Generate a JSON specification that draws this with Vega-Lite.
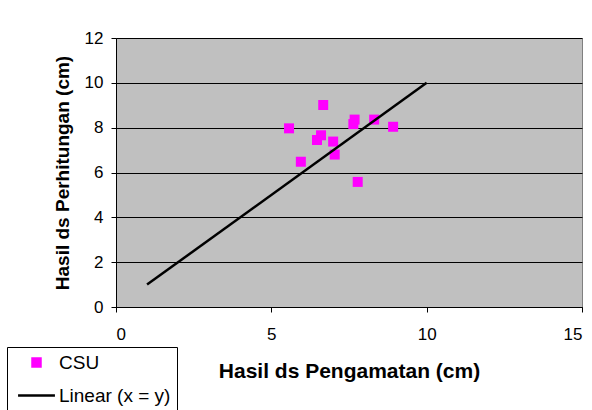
{
  "$schema": "https://vega.github.io/schema/vega-lite/v6.json",
  "width": 466,
  "height": 269,
  "autosize": "none",
  "padding": {"left": 116, "top": 38, "right": 10, "bottom": 103},
  "background": "white",
  "config": {
    "view": {"fill": "#C0C0C0", "stroke": "#808080", "strokeWidth": 1},
    "font": "Liberation Sans",
    "axis": {
      "domainColor": "black",
      "tickColor": "black",
      "tickSize": 5,
      "labelFont": "Liberation Sans",
      "labelFontSize": 17,
      "labelColor": "black",
      "titleFont": "Liberation Sans",
      "titleFontWeight": "bold",
      "titleColor": "black"
    },
    "legend": {
      "title": null,
      "orient": "none",
      "legendX": -109,
      "legendY": 309,
      "strokeColor": "black",
      "padding": 6,
      "labelFont": "Liberation Sans",
      "labelFontSize": 19,
      "labelColor": "black",
      "labelOffset": 13,
      "symbolOffset": 14,
      "rowPadding": 13
    }
  },
  "datasets": {
    "csu": [
      {"obs": 6.67, "calc": 9.01, "series": "CSU"},
      {"obs": 5.57, "calc": 7.97, "series": "CSU"},
      {"obs": 7.68, "calc": 8.36, "series": "CSU"},
      {"obs": 7.64, "calc": 8.16, "series": "CSU"},
      {"obs": 8.31, "calc": 8.36, "series": "CSU"},
      {"obs": 8.92, "calc": 8.04, "series": "CSU"},
      {"obs": 6.6, "calc": 7.66, "series": "CSU"},
      {"obs": 6.47, "calc": 7.45, "series": "CSU"},
      {"obs": 6.99, "calc": 7.38, "series": "CSU"},
      {"obs": 7.04, "calc": 6.8, "series": "CSU"},
      {"obs": 5.95, "calc": 6.48, "series": "CSU"},
      {"obs": 7.78, "calc": 5.58, "series": "CSU"}
    ],
    "linear": [
      {"obs": 1, "calc": 1, "series": "Linear (x = y)"},
      {"obs": 10, "calc": 10, "series": "Linear (x = y)"}
    ]
  },
  "encoding": {
    "x": {
      "field": "obs", "type": "quantitative",
      "scale": {"domain": [0, 15], "nice": false},
      "axis": {"values": [0, 5, 10, 15], "grid": false, "title": "Hasil ds Pengamatan (cm)", "titleFontSize": 21, "labelPadding": 14, "titlePadding": 18}
    },
    "y": {
      "field": "calc", "type": "quantitative",
      "scale": {"domain": [0, 12], "nice": false},
      "axis": {"values": [0, 2, 4, 6, 8, 10, 12], "grid": true, "gridColor": "black", "gridOpacity": 1, "title": "Hasil ds Perhitungan (cm)", "titleFontSize": 19, "labelPadding": 8, "titlePadding": 12}
    },
    "color": {
      "field": "series", "type": "nominal",
      "scale": {"domain": ["CSU", "Linear (x = y)"], "range": ["#FF00FF", "black"]},
      "legend": {
        "encode": {
          "symbols": {
            "update": {
              "shape": {"signal": "datum.value === 'CSU' ? 'square' : 'M-4,0L4,0'"},
              "size": {"signal": "datum.value === 'CSU' ? 64 : 85"},
              "strokeWidth": {"value": 2.5},
              "fill": {"signal": "datum.value === 'CSU' ? '#FF00FF' : 'transparent'"},
              "stroke": {"signal": "datum.value === 'CSU' ? 'transparent' : 'black'"},
              "opacity": {"value": 1}
            }
          }
        }
      }
    }
  },
  "layer": [
    {
      "data": {"name": "csu"},
      "mark": {"type": "point", "shape": "square", "filled": true, "size": 100, "opacity": 1}
    },
    {
      "data": {"name": "linear"},
      "mark": {"type": "line", "strokeWidth": 2.5}
    }
  ]
}
